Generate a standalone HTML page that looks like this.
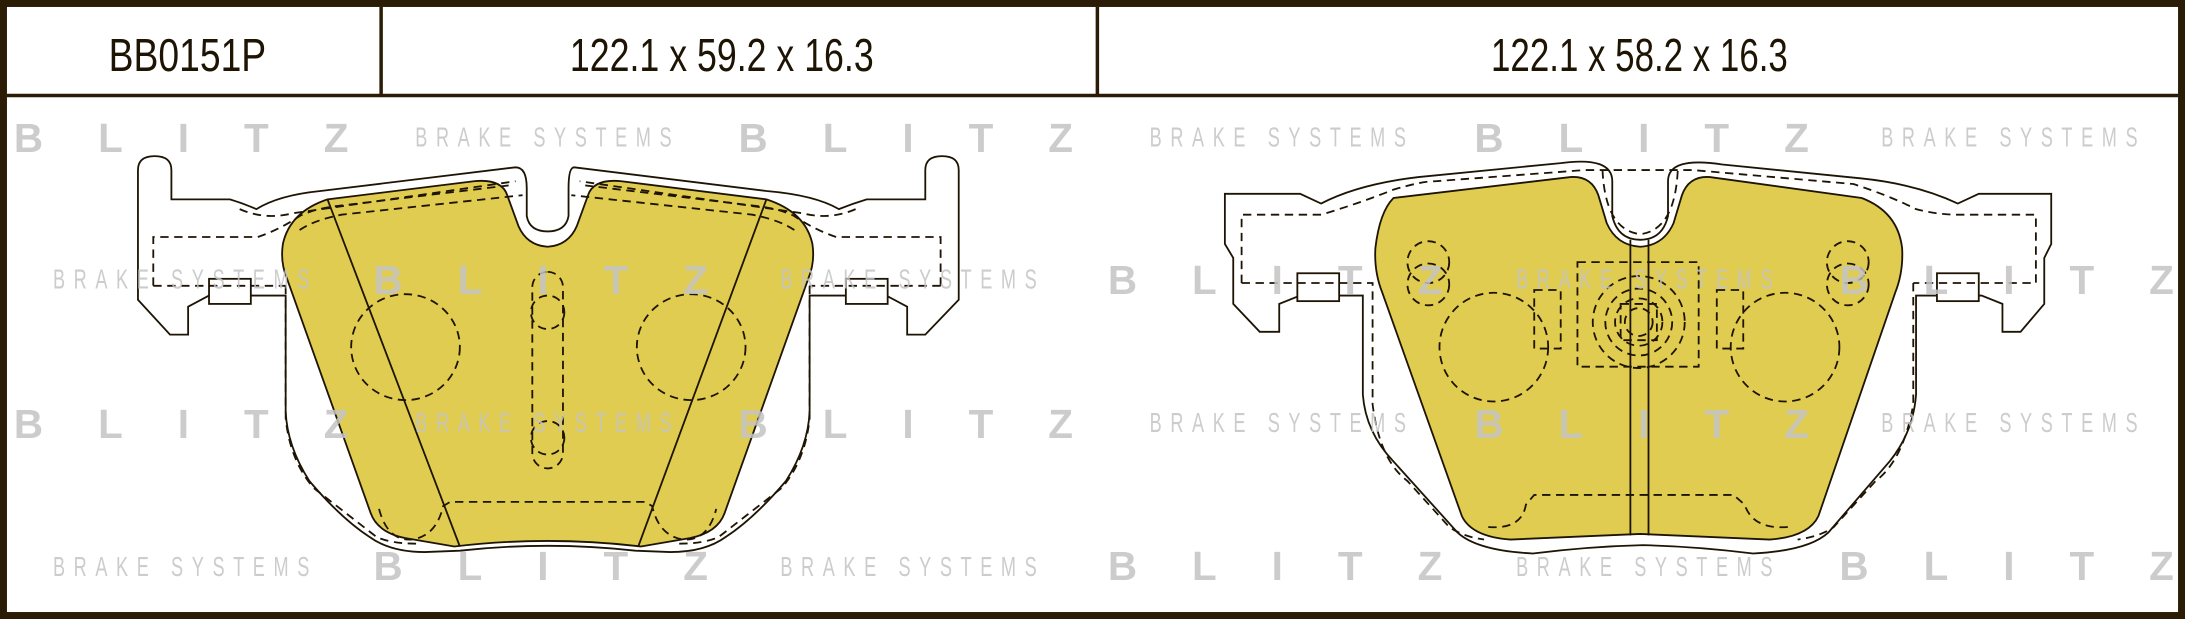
<!DOCTYPE html>
<html><head><meta charset="utf-8"><style>
html,body{margin:0;padding:0;background:#fff;}
svg{display:block;}
</style></head><body>
<svg width="2185" height="619" viewBox="0 0 1568 444" preserveAspectRatio="none" xmlns="http://www.w3.org/2000/svg">
<rect x="0" y="0" width="1568" height="444" fill="#2b1d05"/>
<rect x="5" y="5" width="1558" height="434" fill="#fff"/>
<line x1="5" y1="68.5" x2="1563" y2="68.5" stroke="#2b1d05" stroke-width="2.5"/>
<line x1="273.5" y1="5" x2="273.5" y2="68" stroke="#2b1d05" stroke-width="2.5"/>
<line x1="787.5" y1="5" x2="787.5" y2="68" stroke="#2b1d05" stroke-width="2.5"/>
<g font-family="Liberation Sans, sans-serif" fill="#1e1404" font-size="33">
<text x="78" y="51" textLength="113" lengthAdjust="spacingAndGlyphs">BB0151P</text>
<text x="409" y="51" textLength="218" lengthAdjust="spacingAndGlyphs">122.1 x 59.2 x 16.3</text>
<text x="1070" y="51" textLength="213" lengthAdjust="spacingAndGlyphs">122.1 x 58.2 x 16.3</text>
</g>

<g stroke="#1e1404" stroke-width="1.3" fill="none">
<path fill="#fff" d="M123,143 L123,122 Q123,112 111,112 Q99,112 99,122 L99,215 L122,240 L135,240 L135,220 L150,212 L195,212 L205,212 L205,295 Q206,320 222,345 Q245,372 265,385 Q280,396 305,396 L330,395 Q393,388 456,395 L481,396 Q506,396 521,385 Q541,372 564,345 Q580,320 581,295 L581,212 L636,212 L651,220 L651,240 L664,240 L688,215 L688,122 Q688,112 676,112 Q664,112 664,122 L664,143 L622,143 Q612,146 602,150 Q585,140 550,137 L412,120 Q408,120 408,135 L408,155 Q406,166 393,166 Q380,166 378,155 L378,135 Q378,120 370,120 L230,137 Q200,140 184,150 Q175,146 165,143 Z"/>
<path fill="#e0cc50" d="M235,143 L340,130 Q360,128 364,140 L372,162 Q378,176 393,177 Q408,176 414,162 L422,140 Q426,128 446,130 L550,143 Q578,152 583,175 Q585,188 580,200 L520,368 Q515,382 495,386 L460,392 Q393,384 326,392 L291,386 Q271,382 266,368 L206,200 Q201,188 203,175 Q208,152 235,143 Z"/>
<line x1="235" y1="143" x2="330" y2="392"/>
<line x1="550" y1="143" x2="458" y2="392"/>
<rect x="150" y="200" width="30" height="18" fill="#fff"/>
<rect x="607" y="200" width="30" height="18" fill="#fff"/>
<g stroke-dasharray="6,4">
<path d="M110,205 L110,170 L185,170 Q200,165 215,155 Q225,150 240,148 L365,133"/>
<path d="M172,150 Q190,158 210,153 L370,130"/>
<path d="M215,165 Q225,158 245,154 L375,140"/>
<path d="M675,205 L675,170 L600,170 Q585,165 570,155 Q560,150 545,148 L420,133"/>
<path d="M614,150 Q596,158 576,153 L416,130"/>
<path d="M570,165 Q560,158 540,154 L410,140"/>
<path d="M110,205 L205,205"/><path d="M675,205 L581,205"/>
<path d="M205,205 L205,300 Q208,330 225,350 L270,385 Q280,390 300,390"/>
<path d="M581,205 L581,300 Q578,330 561,350 L516,385 Q506,390 486,390"/>
<path d="M272,365 Q278,388 295,387 Q313,385 318,363 L323,360 L463,360 L468,363 Q473,385 491,387 Q508,388 514,365"/>
<ellipse cx="291" cy="249" rx="39" ry="38"/>
<ellipse cx="496" cy="249" rx="39" ry="38"/>
<rect x="382" y="195" width="22" height="141" rx="11"/>
<circle cx="393" cy="224" r="12"/>
<circle cx="393" cy="314" r="12"/>
</g>

<path fill="#fff" d="M879,139 L879,175 L885,185 L885,218 L904,238 L918,238 L918,218 L933,212 L978,212 L978,283 Q980,310 1000,331 L1046,382 Q1060,395 1100,397 Q1140,392 1179,391 Q1218,392 1258,397 Q1298,395 1312,382 L1356,331 Q1373,310 1375,283 L1375,212 L1422,212 L1437,218 L1437,238 L1450,238 L1467,218 L1467,185 L1472,175 L1472,139 L1420,139 L1405,146 Q1375,132 1336,128 L1236,118 Q1197,112 1197,130 L1197,155 Q1193,172 1177,172 Q1161,172 1157,155 L1157,130 Q1157,112 1120,117 L1018,127 Q975,132 948,146 L933,139 Z"/>
<path fill="#e0cc50" d="M1000,142 L1127,127 Q1142,126 1147,140 L1153,160 Q1160,176 1177,177 Q1194,176 1201,160 L1207,140 Q1212,126 1227,127 L1336,142 Q1362,152 1365,178 Q1366,195 1360,210 L1305,370 Q1298,385 1270,387 L1177,383 L1084,387 Q1056,385 1049,370 L992,210 Q986,195 987,178 Q990,152 1000,142 Z"/>
<line x1="1170" y1="172" x2="1170" y2="384"/>
<line x1="1183" y1="172" x2="1183" y2="384"/>
<rect x="931" y="196" width="30" height="20" fill="#fff"/>
<rect x="1390" y="196" width="30" height="20" fill="#fff"/>
<g stroke-dasharray="6,4">
<path d="M891,203 L891,154 L948,154 Q975,146 1000,136 Q1020,130 1030,130 L1137,122 L1215,122 L1330,132 Q1355,140 1375,150 Q1390,154 1405,154 L1461,154 L1461,203 L1373,203"/>
<path d="M891,203 L985,203 L985,290 Q990,330 1010,345 L1040,378 Q1050,385 1065,387"/>
<path d="M1373,203 L1373,290 Q1366,330 1346,345 L1316,378 Q1306,385 1290,387"/>
<path d="M1150,122 Q1152,165 1177,168 Q1202,165 1204,122"/>
<path d="M1068,378 Q1092,380 1095,362 L1101,355 L1244,355 L1252,362 Q1258,380 1283,378"/>
<ellipse cx="1072" cy="249" rx="39" ry="39"/>
<ellipse cx="1281" cy="249" rx="39" ry="39"/>
<circle cx="1025" cy="188" r="15"/><circle cx="1025" cy="204" r="15"/>
<circle cx="1326" cy="188" r="15"/><circle cx="1326" cy="204" r="15"/>
<rect x="1132" y="188" width="87" height="75"/>
<rect x="1101" y="208" width="19" height="42"/>
<rect x="1232" y="208" width="19" height="42"/>
<circle cx="1176" cy="231" r="33"/>
<circle cx="1176" cy="231" r="24"/>
<circle cx="1176" cy="231" r="17"/>
<circle cx="1176" cy="231" r="10"/>
<rect x="1163" y="218" width="26" height="26"/>
</g>
</g>

<g font-family="Liberation Sans, sans-serif" fill="#c4c4c4" opacity="0.85">
<g font-size="29" font-weight="bold">
<text x="10" y="109" textLength="240" lengthAdjust="spacing">BLITZ</text>
<text x="530" y="109" textLength="240" lengthAdjust="spacing">BLITZ</text>
<text x="1058" y="109" textLength="240" lengthAdjust="spacing">BLITZ</text>
<text x="268" y="211" textLength="240" lengthAdjust="spacing">BLITZ</text>
<text x="795" y="211" textLength="240" lengthAdjust="spacing">BLITZ</text>
<text x="1320" y="211" textLength="240" lengthAdjust="spacing">BLITZ</text>
<text x="10" y="314" textLength="240" lengthAdjust="spacing">BLITZ</text>
<text x="530" y="314" textLength="240" lengthAdjust="spacing">BLITZ</text>
<text x="1058" y="314" textLength="240" lengthAdjust="spacing">BLITZ</text>
<text x="268" y="416" textLength="240" lengthAdjust="spacing">BLITZ</text>
<text x="795" y="416" textLength="240" lengthAdjust="spacing">BLITZ</text>
<text x="1320" y="416" textLength="240" lengthAdjust="spacing">BLITZ</text>
</g>
<g font-size="20">
<text transform="translate(298,105) scale(0.65,1)" textLength="283" lengthAdjust="spacing">BRAKE SYSTEMS</text>
<text transform="translate(825,105) scale(0.65,1)" textLength="283" lengthAdjust="spacing">BRAKE SYSTEMS</text>
<text transform="translate(1350,105) scale(0.65,1)" textLength="283" lengthAdjust="spacing">BRAKE SYSTEMS</text>
<text transform="translate(38,207) scale(0.65,1)" textLength="283" lengthAdjust="spacing">BRAKE SYSTEMS</text>
<text transform="translate(560,207) scale(0.65,1)" textLength="283" lengthAdjust="spacing">BRAKE SYSTEMS</text>
<text transform="translate(1088,207) scale(0.65,1)" textLength="283" lengthAdjust="spacing">BRAKE SYSTEMS</text>
<text transform="translate(298,310) scale(0.65,1)" textLength="283" lengthAdjust="spacing">BRAKE SYSTEMS</text>
<text transform="translate(825,310) scale(0.65,1)" textLength="283" lengthAdjust="spacing">BRAKE SYSTEMS</text>
<text transform="translate(1350,310) scale(0.65,1)" textLength="283" lengthAdjust="spacing">BRAKE SYSTEMS</text>
<text transform="translate(38,413) scale(0.65,1)" textLength="283" lengthAdjust="spacing">BRAKE SYSTEMS</text>
<text transform="translate(560,413) scale(0.65,1)" textLength="283" lengthAdjust="spacing">BRAKE SYSTEMS</text>
<text transform="translate(1088,413) scale(0.65,1)" textLength="283" lengthAdjust="spacing">BRAKE SYSTEMS</text>
</g>
</g>
</svg>
</body></html>
